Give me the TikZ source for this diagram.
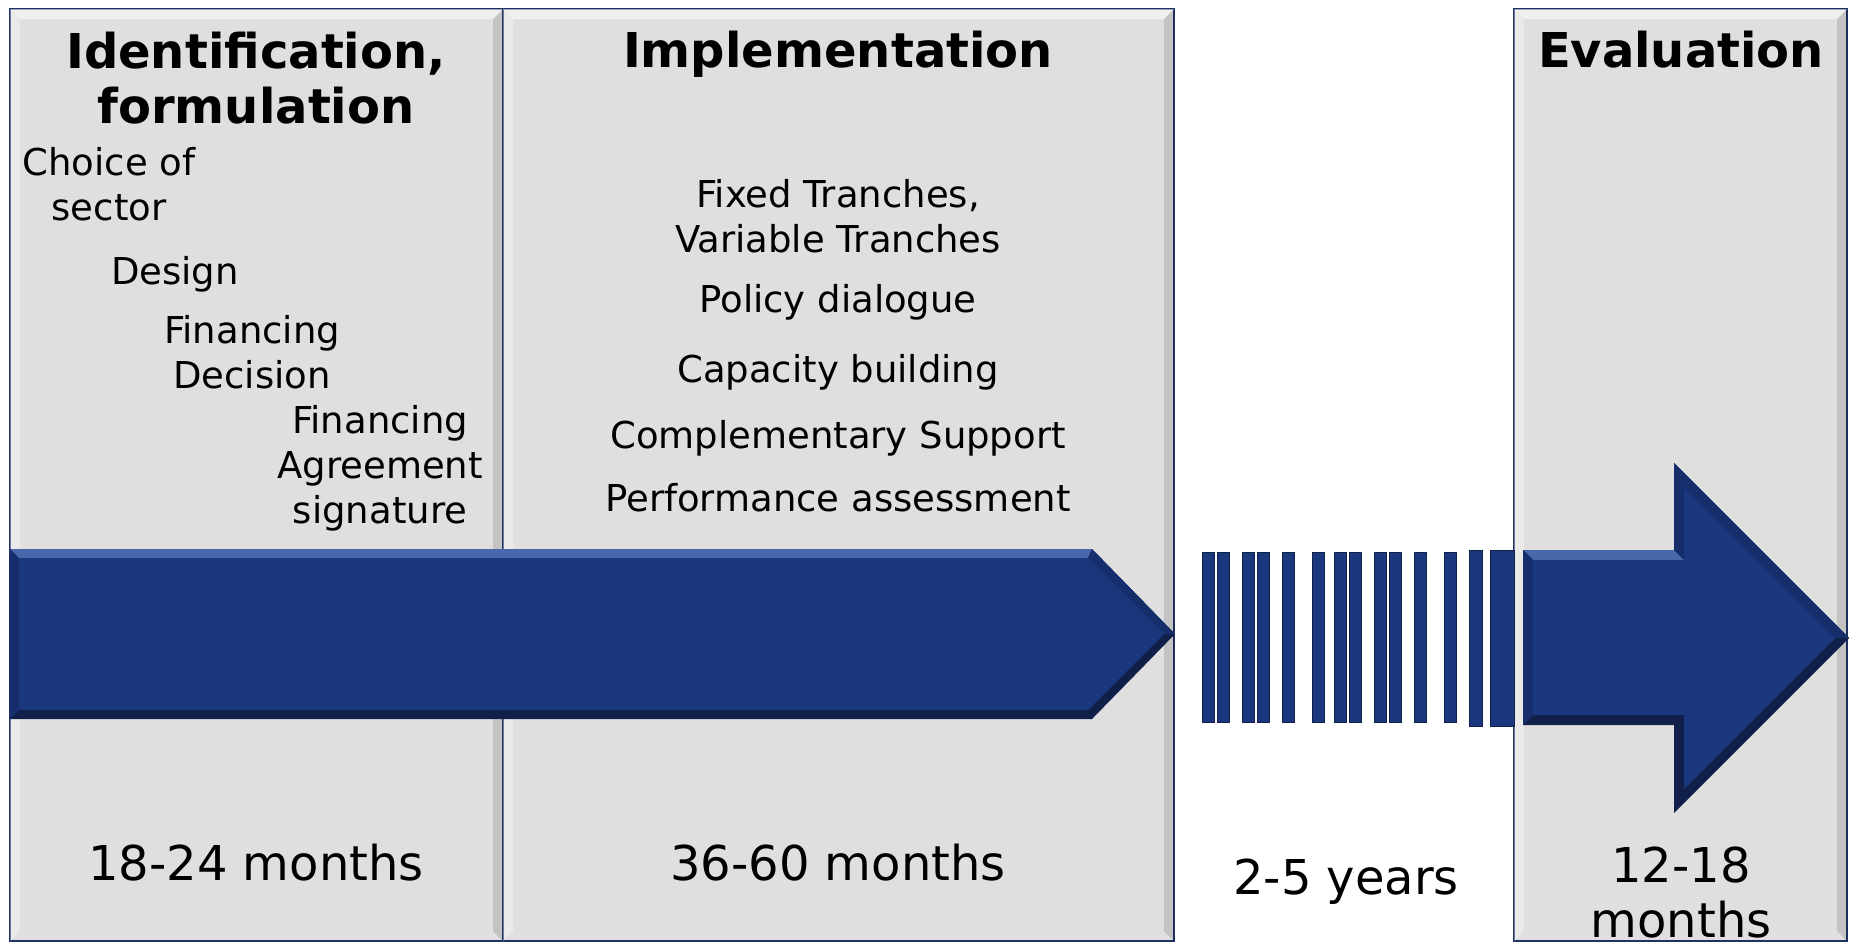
\documentclass[tikz,border=0pt]{standalone}
\usepackage{fontspec}
\setmainfont{DejaVu Sans}
\usetikzlibrary{positioning}

\definecolor{panelgray}{RGB}{223,223,223}
\definecolor{panelline}{RGB}{31,50,100}
\definecolor{arrowblue}{RGB}{27,55,125}
\definecolor{arrowlight}{RGB}{72,104,172}
\definecolor{arrowmid}{RGB}{22,46,108}
\definecolor{arrowdark}{RGB}{16,32,74}

\tikzset{
  phasebox/.style={fill=panelgray, draw=panelline, line width=1pt},
  heading/.style={font=\fontsize{24pt}{27.5pt}\selectfont\bfseries,
                  align=center, inner sep=0pt, anchor=base},
  task/.style={font=\fontsize{18.5pt}{22.5pt}\selectfont,
               align=center, inner sep=0pt, anchor=base},
  duration/.style={font=\fontsize{24pt}{27.5pt}\selectfont,
                   align=center, inner sep=0pt, anchor=base},
  bar/.style={fill=arrowblue, draw=arrowdark, line width=0.5pt},
}

\begin{document}
\begin{tikzpicture}[x=0.5pt,y=-0.5pt]
    \useasboundingbox (0,0) rectangle (1856,943);

    % phases
    \foreach \l/\r in {10/503, 503/1174, 1514/1847} {
        \draw[phasebox] (\l,9) rectangle (\r,941);
        \fill[white, opacity=0.55] (\l,9) -- (\r,9) -- (\r-10,19) -- (\l+10,19) -- cycle;
        \fill[black, opacity=0.12] (\r,9) -- (\r,941) -- (\r-10,931) -- (\r-10,19) -- cycle;
        \fill[white, opacity=0.35] (\l,9) -- (\l+10,19) -- (\l+10,931) -- (\l,941) -- cycle;
    }

    % main arrow
    \fill[arrowdark] (10,549) -- (1092,549) -- (1175,634) -- (1092,719) -- (10,719) -- cycle;
    \fill[arrowlight] (10,549) -- (1092,549) -- (1088,558) -- (19,558) -- cycle;
    \fill[arrowmid] (1092,549) -- (1175,634) -- (1164,634) -- (1088,558) -- cycle;
    \fill[arrowmid] (10,549) -- (19,558) -- (19,710) -- (10,719) -- cycle;
    \fill[arrowblue] (19,558) -- (1088,558) -- (1164,634) -- (1088,710) -- (19,710) -- cycle;

    % broken part
    \foreach \bx in {1202,1217,1242,1257,1282,1312,1334,1349,1374,1389,1414,1444}
        \draw[bar] (\bx,552) rectangle ++(12.5,170);
    \draw[bar] (1469,550) rectangle (1482,726);
    \draw[bar] (1490,550) rectangle (1514,726);

    % evaluation arrow
    \fill[arrowdark] (1523,550) -- (1674,550) -- (1674,463) -- (1849,638)
        -- (1674,813) -- (1674,725) -- (1523,725) -- cycle;
    \fill[arrowlight] (1523,550) -- (1674,550) -- (1684,560) -- (1533,560) -- cycle;
    \fill[arrowmid] (1674,463) -- (1849,638) -- (1835,638) -- (1684,487)
        -- (1684,560) -- (1674,550) -- cycle;
    \fill[arrowmid] (1523,550) -- (1533,560) -- (1533,715) -- (1523,725) -- cycle;
    \fill[arrowblue] (1533,560) -- (1684,560) -- (1684,487) -- (1835,638)
        -- (1684,789) -- (1684,715) -- (1533,715) -- cycle;

    % headings (multi-line nodes sit on their last line)
    \node[heading] (hdIdent) at (256,123) {Identification,\\formulation};
    \node[heading] (hdImpl)  at (838,67)  {Implementation};
    \node[heading] (hdEval)  at (1681,67) {Evaluation};

    % identification steps
    \node[task] (itChoice)    at (109,220) {Choice of\\sector};
    \node[task] (itDesign)    at (175,284) {Design};
    \node[task] (itDecision)  at (252,388) {Financing\\Decision};
    \node[task] (itAgreement) at (380,523) {Financing\\Agreement\\signature};

    % implementation steps
    \node[task] (itTranches) at (838,252) {Fixed Tranches,\\Variable Tranches};
    \node[task] (itDialogue) at (838,312) {Policy dialogue};
    \node[task] (itCapacity) at (838,382) {Capacity building};
    \node[task] (itSupport)  at (838,448) {Complementary Support};
    \node[task] (itAssess)   at (838,511) {Performance assessment};

    % durations
    \node[duration] (duIdent) at (256,880)  {18-24 months};
    \node[duration] (duImpl)  at (838,880)  {36-60 months};
    \node[duration] (duGap)   at (1346,894) {2-5 years};
    \node[duration] (duEval)  at (1681,937) {12-18\\months};
\end{tikzpicture}
\end{document}
